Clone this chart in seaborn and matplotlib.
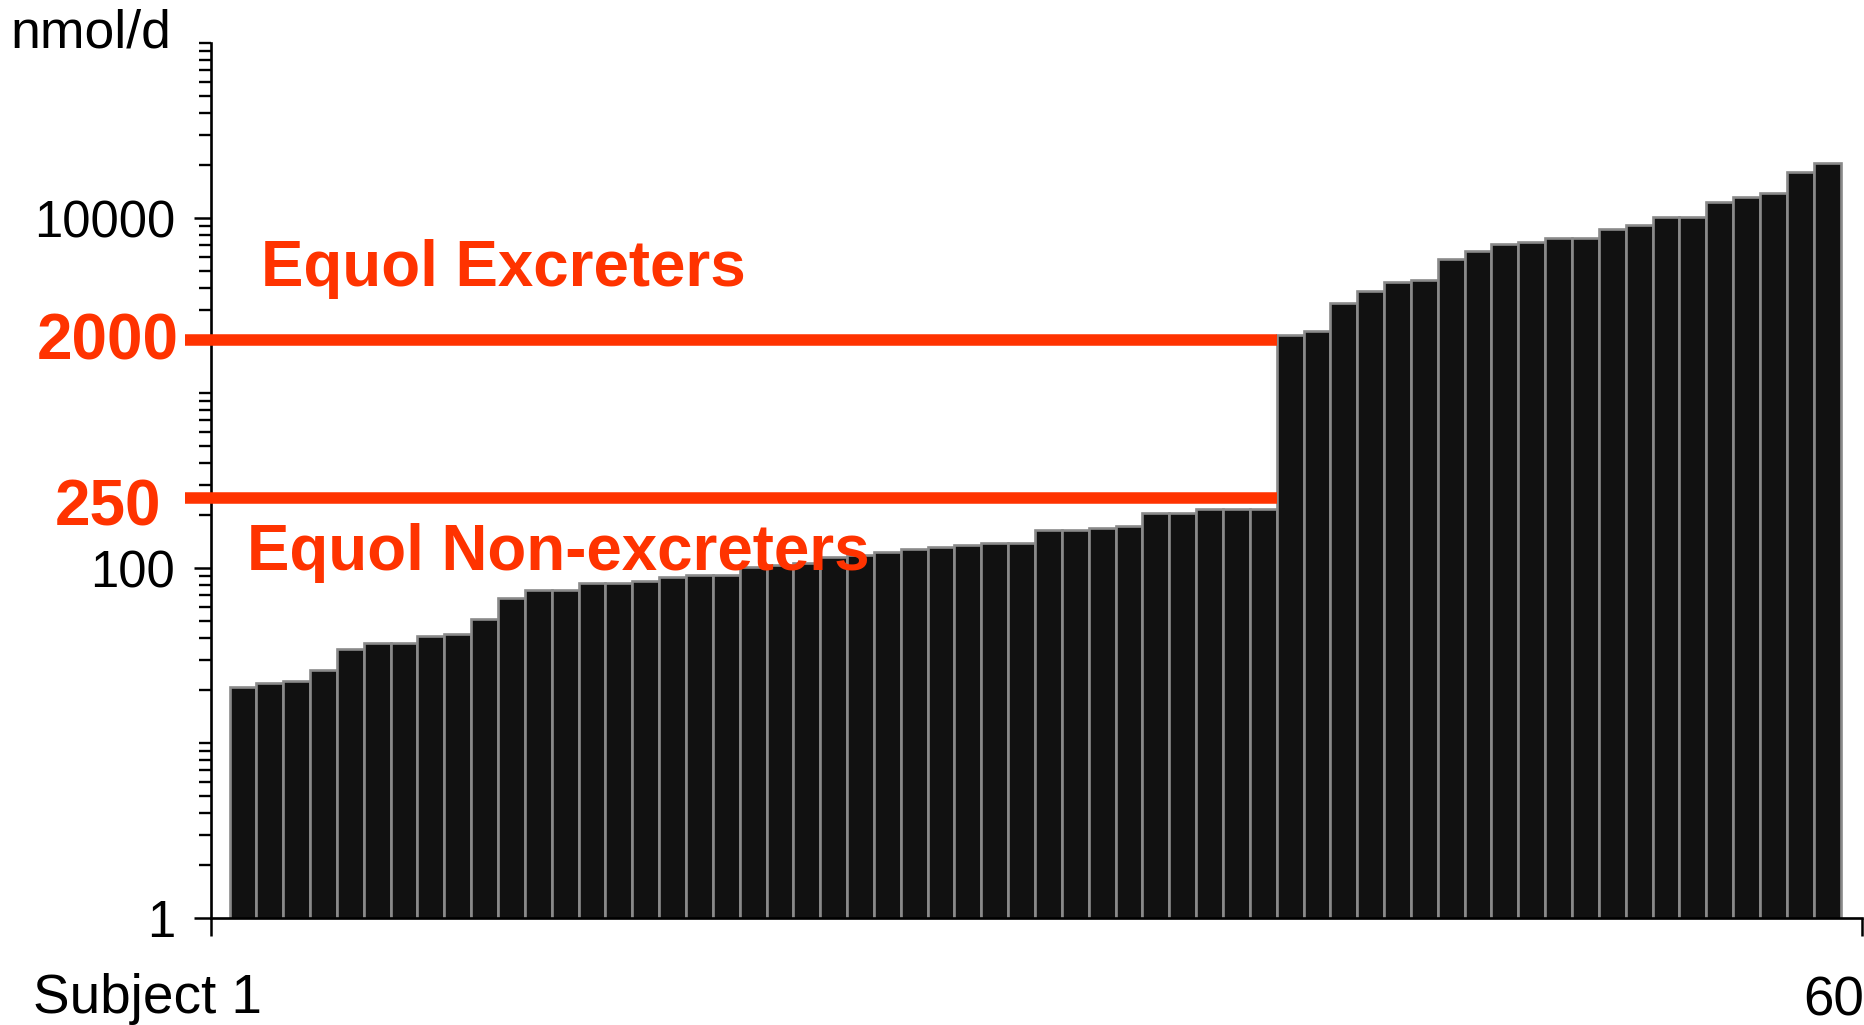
import numpy as np
import pandas as pd
import matplotlib
matplotlib.use("Agg")
import matplotlib.pyplot as plt
import matplotlib.ticker as mticker
import matplotlib.transforms as mtrans
import seaborn as sns

# ---------------- data ----------------
subjects = list(range(1, 61))
non_excreter_values = [20.8, 22.1, 22.6, 26.0, 34.3, 37.5, 37.5, 40.7, 41.8, 51.1,
                       67.1, 74.9, 74.9, 81.7, 81.7, 84.2, 88.4, 91.3, 91.3, 101.7,
                       104, 106.4, 115.4, 119.4, 123.8, 128.2, 132, 136, 139.5, 139.5,
                       164.6, 164.6, 170, 174.4, 206.8, 206.8, 218, 218, 218]
excreter_values = [2146, 2272, 3250, 3843, 4292, 4422, 5850, 6504, 7096, 7294,
                   7724, 7724, 8647, 9114, 10174, 10174, 12397, 13129, 13840, 18316,
                   20540]
thresholds = [2000, 250]
threshold_labels = ["2000", "250"]
group_labels = ["Equol Excreters", "Equol Non-excreters"]
y_tick_values = [1, 100, 10000]
y_tick_labels = ["1", "100", "10000"]
y_unit = "nmol/d"
x_first_label = "Subject 1"
x_last_label = "60"

values = non_excreter_values + excreter_values
df = pd.DataFrame({"subject": subjects, "value": values})

# ---------------- style ----------------
sns.set_style("ticks")
plt.rcParams["font.family"] = ["Liberation Sans", "DejaVu Sans"]
plt.rcParams["text.color"] = "black"
plt.rcParams["axes.labelcolor"] = "black"
plt.rcParams["xtick.color"] = "black"
plt.rcParams["ytick.color"] = "black"
plt.rcParams["axes.edgecolor"] = "black"

RED = "#FF3300"
W, H, DPI = 1864, 1025, 100
fig = plt.figure(figsize=(W / DPI, H / DPI), dpi=DPI)
ax = fig.add_axes([211 / W, (H - 918) / H, 1651 / W, 875 / H])

sns.barplot(data=df, x="subject", y="value", ax=ax, color="#111111",
            saturation=1, width=1.0, edgecolor="#8a8a8a", linewidth=1.9,
            errorbar=None, zorder=1)
ax.set_yscale("log")

n = len(subjects)
xmin, xmax = -0.5 - 0.69, (n - 0.5) + 0.80
ax.set_xlim(xmin, xmax)
ax.set_ylim(1, 1e5)

# spines
for s in ["top", "right"]:
    ax.spines[s].set_visible(False)
for s in ["left", "bottom"]:
    ax.spines[s].set_linewidth(1.9)
    ax.spines[s].set_color("black")
    ax.spines[s].set_zorder(4)

# y ticks
ax.yaxis.set_major_locator(mticker.FixedLocator(y_tick_values))
ax.yaxis.set_major_formatter(mticker.FixedFormatter(y_tick_labels))
ax.yaxis.set_minor_locator(mticker.LogLocator(base=10, subs=np.arange(1, 10), numticks=50))
ax.yaxis.set_minor_formatter(mticker.NullFormatter())
ax.tick_params(axis="y", which="major", direction="out", length=12, width=1.8,
               labelsize=36.5, pad=14, colors="black")
ax.tick_params(axis="y", which="minor", direction="out", length=8.4, width=1.7,
               colors="black")

# x ticks only at axis ends
ax.set_xticks([xmin, xmax])
ax.set_xticklabels(["", ""])
ax.tick_params(axis="x", which="major", direction="out", length=13, width=1.8,
               colors="black")
ax.tick_params(axis="x", which="minor", bottom=False)
ax.set_xlabel("")
ax.set_ylabel("")

# threshold lines
end_frac = ((len(non_excreter_values) - 0.5) - xmin) / (xmax - xmin)
for t in thresholds:
    ax.axhline(t, xmin=-0.0158, xmax=end_frac, color=RED, linewidth=8.3,
               solid_capstyle="butt", clip_on=False, zorder=5)

# threshold labels (y at threshold, offset in points)
label_offsets_pt = [-13.7, -19.9]
ytrans = ax.get_yaxis_transform()
for t, lab, off in zip(thresholds, threshold_labels, label_offsets_pt):
    tr = ytrans + mtrans.ScaledTranslation(0, off / 72, fig.dpi_scale_trans)
    ax.text(-0.0624, t, lab, transform=tr, ha="center", va="baseline",
            fontsize=46, fontweight="bold", color=RED, clip_on=False, zorder=6)

# group labels
ax.text(0.0305, 0.7223, group_labels[0], transform=ax.transAxes, ha="left",
        va="baseline", fontsize=45.8, fontweight="bold", color=RED, zorder=6)
ax.text(0.0220, 0.3977, group_labels[1], transform=ax.transAxes, ha="left",
        va="baseline", fontsize=45.8, fontweight="bold", color=RED, zorder=6)

# unit and x end labels
fig.text(10.5 / W, 1 - 48 / H, y_unit, ha="left", va="baseline", fontsize=38.5)
fig.text(33 / W, 1 - 1013 / H, x_first_label, ha="left", va="baseline", fontsize=39.5)
fig.text(1.0, 1 - 1016 / H, x_last_label, ha="right", va="baseline", fontsize=39.5)

fig.savefig("out.png", dpi=DPI, facecolor="white")
